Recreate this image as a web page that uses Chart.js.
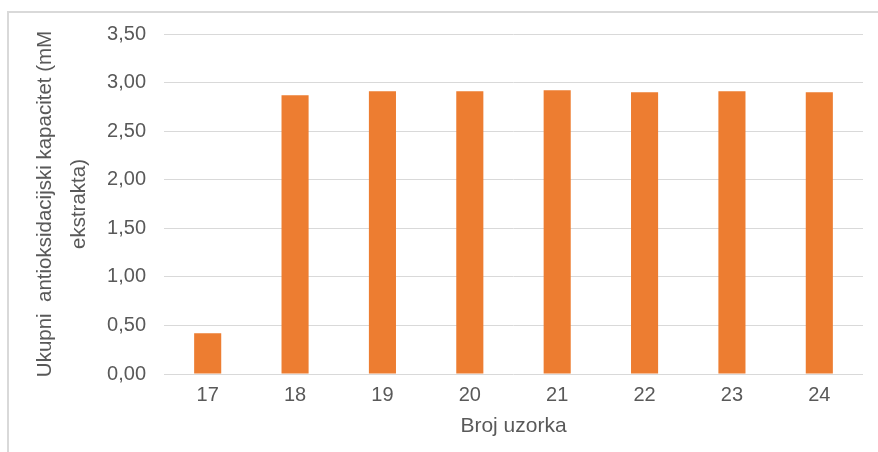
<!DOCTYPE html>
<html>
<head>
<meta charset="utf-8">
<script src="https://cdn.jsdelivr.net/npm/chart.js@4"></script>
<style>
  html, body { margin: 0; padding: 0; background: #fff; }
  #wrap { position: relative; width: 878px; height: 452px; overflow: hidden; }
  #frame {
    position: absolute; left: 7px; top: 11px; width: 900px; height: 500px;
    border-left: 2px solid #d9d9d9; border-top: 2px solid #d9d9d9;
  }
  #chart { position: absolute; left: 0; top: 0; }
</style>
</head>
<body>
<div id="wrap">
  <div id="frame"></div>
  <canvas id="chart" width="878" height="452"></canvas>
</div>
<script>
// Sample numbers and measured capacity
const sampleLabels = ['17', '18', '19', '20', '21', '22', '23', '24'];
const capacityValues = [0.42, 2.87, 2.91, 2.91, 2.92, 2.90, 2.91, 2.90];

const yTitleLines = ['Ukupni  antioksidacijski kapacitet (mM', 'ekstrakta)'];
const xTitle = 'Broj uzorka';

const textColor = '#595959';
const fontFamily = '"Liberation Sans", Arial, sans-serif';

// format ticks with decimal comma
function formatTick(value) {
  return Number(value).toFixed(2).replace('.', ',');
}

const ctx = document.getElementById('chart');

new Chart(ctx, {
  type: 'bar',
  data: {
    labels: sampleLabels,
    datasets: [
      {
        data: capacityValues,
        backgroundColor: '#ED7D31',
        barPercentage: 0.31,
        categoryPercentage: 1,
      },
    ],
  },
  options: {
    responsive: false,
    animation: false,
    devicePixelRatio: 1,
    layout: {
      padding: { left: 0, top: 34, right: 15, bottom: 0 },
    },
    plugins: {
      legend: { display: false },
      tooltip: { enabled: false },
    },
    scales: {
      x: {
        grid: { display: false, drawTicks: false },
        border: { display: false },
        ticks: {
          color: textColor,
          padding: 9,
          font: { family: fontFamily, size: 20 },
        },
        title: {
          display: true,
          text: xTitle,
          color: textColor,
          padding: { top: 0, bottom: 13 },
          font: { family: fontFamily, size: 21 },
        },
        afterFit: (scale) => {
          scale.height = 78;
        },
      },
      y: {
        min: 0,
        max: 3.5,
        grid: { color: '#d9d9d9', lineWidth: 1, drawTicks: false },
        border: { display: false },
        ticks: {
          stepSize: 0.5,
          color: textColor,
          padding: 18,
          font: { family: fontFamily, size: 20 },
          callback: (value) => formatTick(value),
        },
        title: {
          display: true,
          text: yTitleLines,
          color: textColor,
          padding: { top: 28, bottom: 0 },
          font: { family: fontFamily, size: 20.5, lineHeight: '34px' },
        },
        afterFit: (scale) => {
          scale.width = 164;
        },
      },
    },
  },
});
</script>
</body>
</html>
